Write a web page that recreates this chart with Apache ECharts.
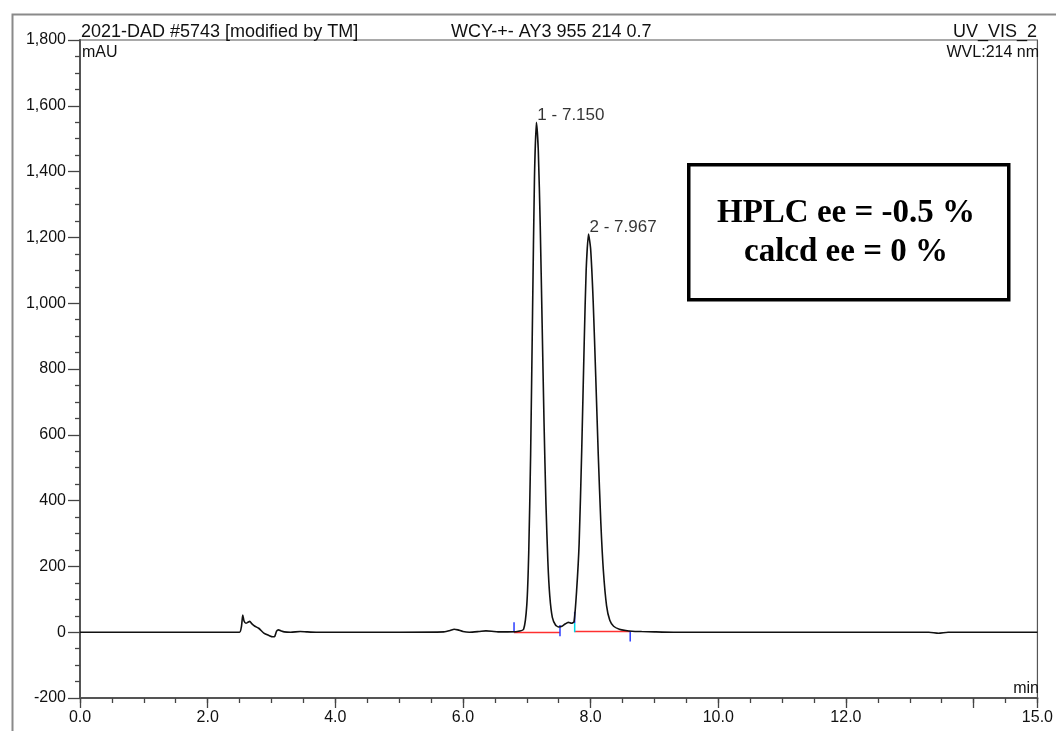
<!DOCTYPE html>
<html>
<head>
<meta charset="utf-8">
<title>WCY-+- AY3 955 214 0.7</title>
<script src="https://cdn.jsdelivr.net/npm/echarts@6/dist/echarts.min.js"></script>
<style>
  html, body { margin: 0; padding: 0; background: #ffffff; }
  #chart { width: 1056px; height: 731px; }
</style>
</head>
<body>
<div id="chart"></div>
<script>
// Retention time (min) and detector signal (mAU) of the UV_VIS_2 trace
const times = [
  0, 1.0, 2.0, 2.50, 2.53, 2.55, 2.57, 2.60, 2.63, 2.66, 2.69, 2.74, 2.80, 2.88, 2.96,
  3.02, 3.05, 3.08, 3.11, 3.15, 3.20, 3.30, 3.45, 3.55, 3.70, 4.0, 5.0, 5.70, 5.80,
  5.86, 5.92, 6.00, 6.10, 6.25, 6.36, 6.45, 6.55, 6.70, 6.85, 6.95, 7.00, 7.03, 7.06,
  7.09, 7.12, 7.150, 7.18, 7.21, 7.24, 7.27, 7.30, 7.33, 7.36, 7.40, 7.45, 7.50, 7.55,
  7.60, 7.65, 7.70, 7.74, 7.78, 7.82, 7.86, 7.90, 7.93, 7.967, 8.00, 8.04, 8.08, 8.12,
  8.16, 8.20, 8.25, 8.30, 8.36, 8.45, 8.55, 8.65, 8.80, 9.00, 9.30, 10.0, 12.0, 13.30,
  13.45, 13.60, 15.0
];
const signal = [
  0, 0, 0, 0, 18, 52, 34, 27, 30, 33, 26, 18, 12, -3, -10,
  -14, -13, 3, 7, 4, 1, 0, 2, 1, 0, 0, 0, 1, 5,
  9, 7, 2, 0, 2, 4, 3, 1, 1, 2, 9, 83, 240, 540,
  970, 1380, 1550, 1465, 1240, 940, 637, 390, 215, 110, 45, 22, 16, 18,
  25, 30, 27, 32, 125, 270, 550, 885, 1100, 1210, 1165, 1005, 777, 537,
  332, 186, 80, 36, 18, 9, 5, 3, 2, 1, 0, 0, 0, 0,
  -3, 0, 0
];

// Integrated peaks: number, retention time, apex height
const peakNumbers = [1, 2];
const peakTimes = [7.150, 7.967];
const peakHeights = [1550, 1210];

// Integration baselines (start, end, level) and delimiter ticks (time, low, high)
const baseStarts = [6.80, 7.75];
const baseEnds = [7.52, 8.62];
const baseLevels = [-1, 2];
const delimTimes = [6.80, 7.52, 7.75, 8.62];
const delimLows = [0, -12, 28, -28];
const delimHighs = [30, 22, 62, 2];
const splitTime = 7.75;
const splitLow = 0;
const splitHigh = 28;

// Time axis: labelled every 2 min, the 14 min tick is left without text
const xUnlabelled = [14];

const SANS = '"Liberation Sans", Arial, sans-serif';
const SERIF = '"Liberation Serif", "Times New Roman", serif';

const trace = times.map((t, i) => [t, signal[i]]);
const peaks = peakTimes.map((t, i) => [t, peakHeights[i], peakNumbers[i]]);

const baselineSeries = baseStarts.map((s, i) => ({
  type: 'line',
  data: [[s, baseLevels[i]], [baseEnds[i], baseLevels[i]]],
  symbol: 'none',
  silent: true,
  lineStyle: { color: '#ff3030', width: 1.5 },
  z: 3
}));
const delimSeries = delimTimes.map((t, i) => ({
  type: 'line',
  data: [[t, delimLows[i]], [t, delimHighs[i]]],
  symbol: 'none',
  silent: true,
  lineStyle: { color: '#2a3cff', width: 1.5 },
  z: 4
}));
delimSeries.push({
  type: 'line',
  data: [[splitTime, splitLow], [splitTime, splitHigh]],
  symbol: 'none',
  silent: true,
  lineStyle: { color: '#00d8e8', width: 1.5 },
  z: 4
});

const tickStyle = { color: '#444444', width: 1.3 };

const chart = echarts.init(document.getElementById('chart'), null, { renderer: 'canvas' });

chart.setOption({
  animation: false,
  backgroundColor: '#ffffff',
  grid: {
    left: 80, right: 16, top: 40, bottom: 33,
    show: true, borderColor: '#555555', borderWidth: 1.2
  },
  xAxis: [
    {
      // labelled time axis with long ticks every 2 min (plus the end of the run)
      type: 'value', min: 0, max: 15, interval: 2, position: 'bottom',
      axisLine: { show: true, onZero: false, lineStyle: { color: '#555555', width: 2 } },
      axisTick: { show: true, length: 10, lineStyle: tickStyle },
      axisLabel: {
        formatter: v => (xUnlabelled.includes(v) ? '' : v.toFixed(1)),
        showMinLabel: true, showMaxLabel: true,
        color: '#111111', fontFamily: SANS, fontSize: 16, margin: 12
      },
      splitLine: { show: false }
    },
    {
      // short ticks every 0.5 min
      type: 'value', min: 0, max: 15, interval: 0.5, position: 'bottom',
      axisLine: { show: false, onZero: false },
      axisTick: { show: true, length: 5, lineStyle: tickStyle },
      axisLabel: { show: false },
      splitLine: { show: false }
    }
  ],
  yAxis: {
    type: 'value', min: -200, max: 1800, interval: 200,
    axisLine: { show: true, onZero: false, lineStyle: { color: '#555555', width: 2 } },
    axisTick: { show: true, length: 12, lineStyle: tickStyle },
    minorTick: { show: true, splitNumber: 4, length: 5, lineStyle: tickStyle },
    axisLabel: {
      formatter: v => v.toLocaleString('en-US'),
      color: '#111111', fontFamily: SANS, fontSize: 16, margin: 14
    },
    splitLine: { show: false }
  },
  series: [
    {
      type: 'line',
      data: trace,
      symbol: 'none',
      smooth: 0.2,
      silent: true,
      lineStyle: { color: '#111111', width: 1.6 },
      z: 5
    },
    ...baselineSeries,
    ...delimSeries,
    {
      type: 'scatter',
      data: peaks,
      symbolSize: 1,
      itemStyle: { color: 'rgba(0,0,0,0)' },
      silent: true,
      label: {
        show: true,
        position: 'top',
        distance: 0,
        align: 'left',
        verticalAlign: 'bottom',
        offset: [1, 2],
        formatter: p => p.data[2] + ' - ' + p.data[0].toFixed(3),
        color: '#000000', fontFamily: SANS, fontSize: 17
      },
      z: 6
    }
  ],
  graphic: [
    // page frame
    { type: 'rect', left: 10, top: 12, shape: { width: 1100, height: 800 },
      style: { fill: 'none', stroke: '#8a8a8a', lineWidth: 2 }, silent: true },
    // header line
    { type: 'text', x: 81, y: 32, style: { text: '2021-DAD #5743 [modified by TM]', font: '18px ' + SANS,
      fill: '#111111', textVerticalAlign: 'middle' } },
    { type: 'text', x: 451, y: 32, style: { text: 'WCY-+- AY3 955 214 0.7', font: '18px ' + SANS,
      fill: '#111111', textVerticalAlign: 'middle' } },
    { type: 'text', x: 1037, y: 32, style: { text: 'UV_VIS_2', font: '18px ' + SANS,
      fill: '#111111', textAlign: 'right', textVerticalAlign: 'middle' } },
    // axis units
    { type: 'text', x: 82, y: 53, style: { text: 'mAU', font: '16px ' + SANS,
      fill: '#111111', textVerticalAlign: 'middle' } },
    { type: 'text', x: 1039, y: 53, style: { text: 'WVL:214 nm', font: '16px ' + SANS,
      fill: '#111111', textAlign: 'right', textVerticalAlign: 'middle' } },
    { type: 'text', x: 1039, y: 689, style: { text: 'min', font: '16px ' + SANS,
      fill: '#111111', textAlign: 'right', textVerticalAlign: 'middle' } },
    // ee annotation box
    { type: 'rect', left: 687, top: 163, shape: { width: 320, height: 135 },
      style: { fill: '#ffffff', stroke: '#000000', lineWidth: 3.5 }, z: 10 },
    { type: 'text', x: 846, y: 213, z: 11, style: { text: 'HPLC ee = -0.5 %', font: 'bold 33px ' + SERIF,
      fill: '#000000', textAlign: 'center', textVerticalAlign: 'middle' } },
    { type: 'text', x: 846, y: 252, z: 11, style: { text: 'calcd ee = 0 %', font: 'bold 33px ' + SERIF,
      fill: '#000000', textAlign: 'center', textVerticalAlign: 'middle' } }
  ]
});
</script>
</body>
</html>
